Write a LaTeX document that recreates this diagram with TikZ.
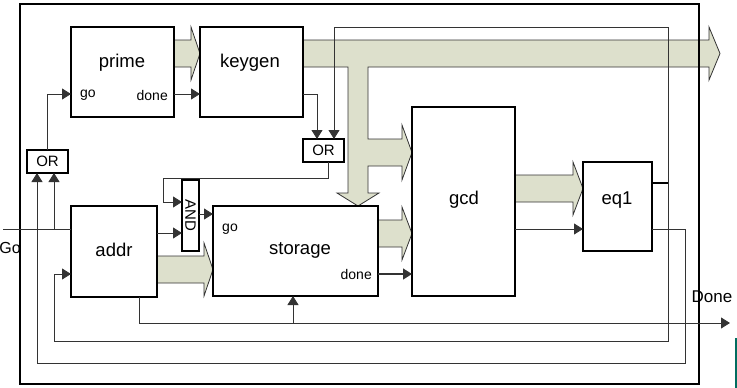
\documentclass[tikz,border=0pt]{standalone}
\usepackage{fontspec}
\setmainfont{Liberation Sans}
\usetikzlibrary{arrows.meta,calc}
\definecolor{busfill}{RGB}{221,224,204}
\definecolor{tealbar}{RGB}{0,110,96}
\tikzset{
  blk/.style={draw, line width=1.4pt, inner sep=0pt, outer sep=0pt, anchor=north west},
  lbl/.style={font=\fontsize{18.5}{20}\selectfont, inner sep=0pt},
  sml/.style={font=\fontsize{14}{16}\selectfont, inner sep=0pt},
  gate/.style={font=\fontsize{15}{17}\selectfont},
  wire/.style={line width=0.9pt, black!80},
  sig/.style={wire, -{Triangle[length=9pt,width=11pt]}},
  bus/.style={fill=busfill, draw=black!80, line width=0.8pt},
}
\begin{document}
\begin{tikzpicture}[x=1pt,y=-1pt]
\useasboundingbox (0,0) rectangle (737,388);
% fat arrows / buses
\draw[bus] (174,40) -- (191,40) -- (191,27) -- (200,53.5) -- (191,80) -- (191,67) -- (174,67) -- cycle;
\draw[bus] (378,220) -- (402,220) -- (402,207) -- (412,233.5) -- (402,260) -- (402,247) -- (378,247) -- cycle;
\draw[bus] (157,256) -- (204,256) -- (204,243) -- (213,269.5) -- (204,296) -- (204,283) -- (157,283) -- cycle;
\draw[bus] (515,175) -- (573,175) -- (573,162) -- (583,188.5) -- (573,215) -- (573,202) -- (515,202) -- cycle;
\draw[bus] (303,40) -- (709,40) -- (709,27) -- (720,53.5) -- (709,80) -- (709,67) -- (368,67)
  -- (368,139) -- (402,139) -- (402,125) -- (412,152.5) -- (402,180) -- (402,166) -- (368,166)
  -- (368,193) -- (379,193) -- (358,206) -- (337,193) -- (348,193) -- (348,67) -- (303,67) -- cycle;
% frame
\draw[line width=1.4pt] (20,4) rectangle (699,384);
% blocks
\node[blk, minimum width=103pt, minimum height=90pt] (prime) at (71,27) {};
\node[blk, minimum width=103pt, minimum height=90pt] (keygen) at (200,27) {};
\node[blk, minimum width=41pt, minimum height=23pt, gate] (or1) at (27,150) {OR};
\node[blk, minimum width=41pt, minimum height=23pt, gate] (or2) at (303,139) {OR};
\node[blk, minimum width=17pt, minimum height=71pt] (and) at (182,180) {};
\node[blk, minimum width=86pt, minimum height=91pt] (addr) at (71,206) {};
\node[blk, minimum width=165pt, minimum height=90pt] (storage) at (213,206) {};
\node[blk, minimum width=103pt, minimum height=189pt] (gcd) at (412,107) {};
\node[blk, minimum width=69pt, minimum height=89pt] (eq1) at (583,162) {};
% labels
\node[lbl] (tprime) at (122,63) {prime};
\node[lbl] (tkeygen) at (250,63) {keygen};
\node[lbl] (taddr) at (114,250) {addr};
\node[lbl] (tstorage) at (300,250) {storage};
\node[lbl] (tgcd) at (464,200) {gcd};
\node[lbl] (teq1) at (617,200) {eq1};
\node[gate, rotate=-90, inner sep=0pt] (tand) at (and.center) {AND};
\node[sml] (pgo) at (88,95) {go};
\node[sml, anchor=east] (pdone) at (168,95) {done};
\node[sml] (sgo) at (230,229) {go};
\node[sml, anchor=east] (sdone) at (372,274) {done};
\node[font=\fontsize{16}{18}\selectfont, inner sep=0pt] (tgo) at (10,248) {Go};
\node[font=\fontsize{17}{19}\selectfont, inner sep=0pt] (tdone) at (712,297) {Done};
% wires
\draw[sig] (or1.north) |- (prime.west |- 0,94);
\draw[sig] (prime.east |- 0,94) -- (keygen.west |- 0,94);
\draw[sig] (keygen.east |- 0,94) -| (or2.north -| 317,0);
\draw[sig] (eq1.east |- 0,183) -| (668,27) -| (or2.north -| 334,0);
\draw[sig] (668,183) |- (54,341) |- (addr.west |- 0,274);
\draw[sig] (eq1.east |- 0,229) -| (685,363) -| (or1.south -| 37,0);
\draw[wire] (3,229) -- (addr.west |- 0,229);
\draw[sig] (54,229) -- (or1.south -| 54,0);
\draw[sig] (addr.east |- 0,233) -- (and.west |- 0,233);
\draw[sig] (or2.south -| 328,0) |- (163,178) |- (and.west |- 0,202);
\draw[sig] (and.east |- 0,214) -- (storage.west |- 0,214);
\draw[sig, line width=1.3pt] (storage.east |- 0,274) -- (gcd.west |- 0,274);
\draw[sig] (gcd.east |- 0,229) -- (eq1.west |- 0,229);
\draw[sig] (addr.south -| 139,0) |- (730,323);
\draw[sig] (293,323) -- (storage.south -| 293,0);
\draw[line width=1.4pt] (eq1.east |- 0,183) -- (668,183);
\draw[tealbar, line width=3pt] (736,338) -- (736,388);
\end{tikzpicture}
\end{document}
